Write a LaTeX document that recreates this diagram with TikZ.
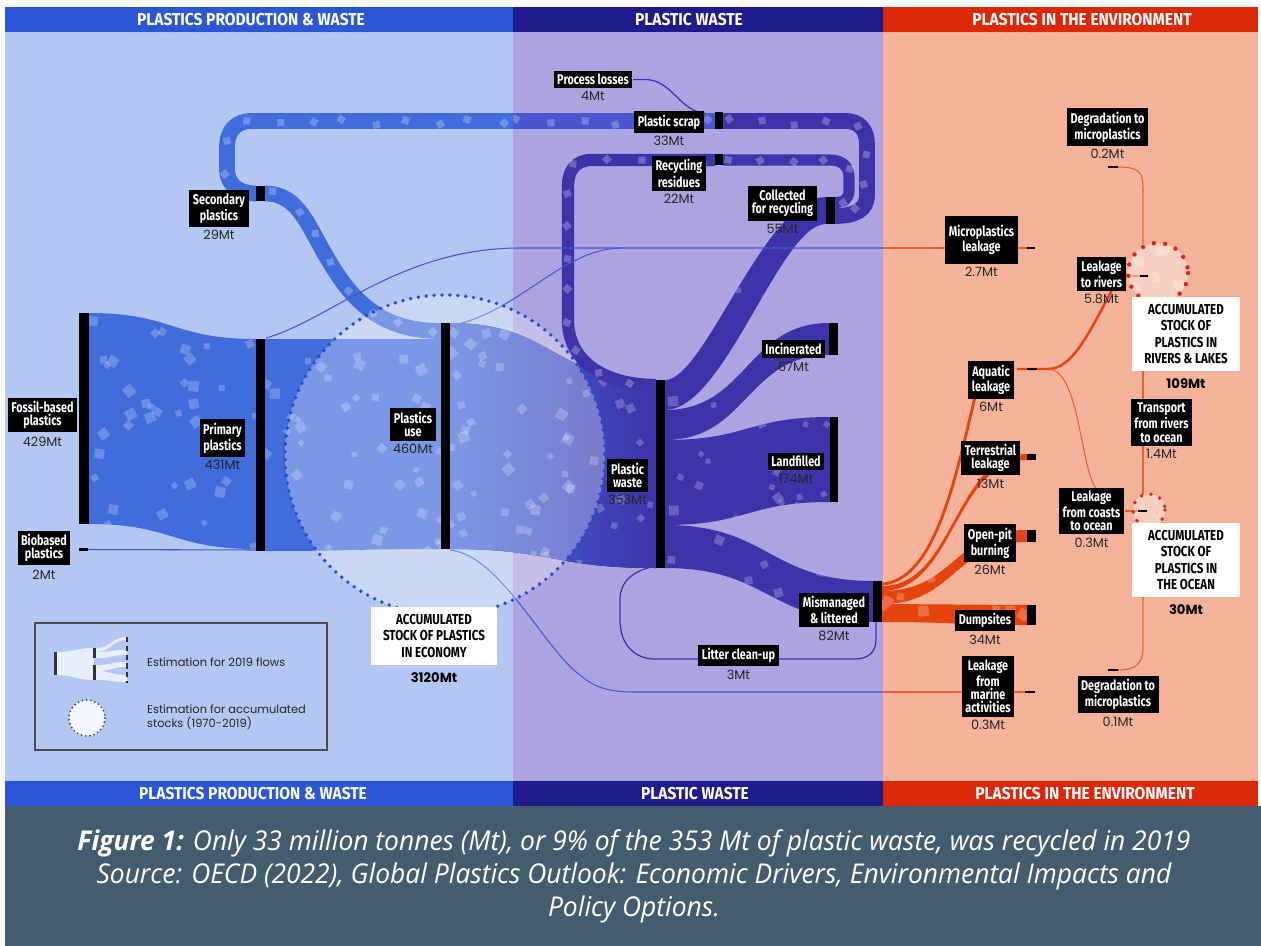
\documentclass[tikz,border=0pt]{standalone}
\usepackage{fontspec}
\setmainfont{Poppins}
\newfontfamily\condfont{Fira Sans}[FakeStretch=0.77]
\newfontfamily\hdrfont{Fira Sans}[FakeStretch=0.9]
\newfontfamily\stockfont{Fira Sans}[FakeStretch=0.8]
\newfontfamily\capfont{Open Sans}[FakeStretch=0.97]
\usepackage{tikz}
\usetikzlibrary{positioning, decorations.markings}

\definecolor{prodbg}{HTML}{B4C7F2}
\definecolor{wastebg}{HTML}{ADA3E0}
\definecolor{envbg}{HTML}{F4B29A}
\definecolor{prodhd}{HTML}{2B56D6}
\definecolor{wastehd}{HTML}{201B8C}
\definecolor{envhd}{HTML}{DD2808}
\definecolor{flowblue}{HTML}{416CDC}
\definecolor{flowmid}{HTML}{4A55D2}
\definecolor{flowpurple}{HTML}{3F33AA}
\definecolor{floworange}{HTML}{E5440F}
\definecolor{capbg}{HTML}{435D6F}
\definecolor{dotblue}{HTML}{1F4FD6}
\definecolor{dotred}{HTML}{D42A10}

% sankey band between two vertical edges
\newcommand{\bandpath}[6]{(#1,#2) .. controls ({(#1+#4)/2},#2) and ({(#1+#4)/2},#5) .. (#4,#5) -- (#4,#6) .. controls ({(#1+#4)/2},#6) and ({(#1+#4)/2},#3) .. (#1,#3) -- cycle}
% scattered squares
\newcommand{\confetti}[5]{%
  \foreach \k in {1,...,#5}{%
    \pgfmathsetmacro{\cx}{#1+rnd*(#2-#1)}%
    \pgfmathsetmacro{\cy}{#3+rnd*(#4-#3)}%
    \pgfmathsetmacro{\ca}{rnd*90}%
    \pgfmathsetmacro{\cs}{3.5+rnd*4}%
    \fill[white, opacity=0.22] (\cx,\cy) +(\ca:\cs) -- +(\ca+90:\cs) -- +(\ca+180:\cs) -- +(\ca+270:\cs) -- cycle;
  }}

\begin{document}
\begin{tikzpicture}[x=0.02cm, y=-0.02cm,
  lbl/.style={fill=black, text=white, font=\condfont\bfseries\fontsize{8}{7.6}\selectfont, align=center, inner sep=2pt},
  val/.style={font=\fontsize{7.3}{8}\selectfont, text=black!85, inner sep=0pt},
  hdr/.style={font=\hdrfont\bfseries\fontsize{9.8}{10}\selectfont, text=white},
  stk/.style={fill=white, font=\stockfont\bfseries\fontsize{8.2}{9.4}\selectfont, align=center, inner xsep=4pt, inner ysep=4pt},
  stkval/.style={font=\bfseries\fontsize{7.5}{8}\selectfont, inner sep=0pt},
  legtxt/.style={font=\fontsize{6.5}{7.8}\selectfont, align=left, anchor=west, text=black!85},
  thinblue/.style={draw=flowmid, line width=0.6pt},
  thinpurple/.style={draw=flowpurple, line width=0.7pt},
  thinred/.style={draw=floworange!85!white, line width=0.6pt},
  stockdots/.style={line width=2.2pt, line cap=round, dash pattern=on 0pt off 4.5pt},
  flowdots/.style={postaction={decorate, decoration={markings,
      mark=between positions 0.03 and 0.97 step 18pt with {%
        \pgfmathsetmacro{\ca}{rnd*90}\pgfmathsetmacro{\co}{rnd*5-2.5}%
        \fill[white, opacity=0.25, rotate=\ca] (0pt,\co pt) +(-2pt,-2pt) rectangle +(2pt,2pt);}}}}
]
\pgfmathsetseed{42}
\useasboundingbox (0,0) rectangle (1261,946);

% panels and headers
\fill[white] (0,0) rectangle (1261,946);
\fill[prodbg] (5,32) rectangle (513,781);
\fill[wastebg] (513,32) rectangle (883,781);
\fill[envbg] (883,32) rectangle (1258,781);
\foreach \ya/\yb in {7/32, 781/806} {
  \fill[prodhd] (5,\ya) rectangle (513,\yb);
  \fill[wastehd] (513,\ya) rectangle (883,\yb);
  \fill[envhd] (883,\ya) rectangle (1258,\yb);
}
\fill[capbg] (5,806) rectangle (1261,946);
\node[hdr] (hprod) at (251,19.5) {PLASTICS PRODUCTION \& WASTE};
\node[hdr] (hwaste) at (689,19.5) {PLASTIC WASTE};
\node[hdr] (henv) at (1082,19.5) {PLASTICS IN THE ENVIRONMENT};
\node[hdr] (hprod2) at (253,793.5) {PLASTICS PRODUCTION \& WASTE};
\node[hdr] (hwaste2) at (695,793.5) {PLASTIC WASTE};
\node[hdr] (henv2) at (1085,793.5) {PLASTICS IN THE ENVIRONMENT};

% production flows
\fill[flowblue] \bandpath{89}{313}{524}{256}{339}{549};
\fill[flowblue] \bandpath{265}{339}{551}{441}{339}{549};
\fill[left color=flowblue, right color=flowpurple] \bandpath{450}{323}{549}{656}{380}{568};
\begin{scope}
  \clip \bandpath{89}{313}{524}{256}{339}{549};
  \confetti{89}{256}{313}{549}{40}
\end{scope}
\begin{scope}
  \clip \bandpath{265}{339}{551}{441}{339}{549};
  \confetti{265}{441}{339}{551}{40}
\end{scope}
\begin{scope}
  \clip \bandpath{450}{323}{549}{656}{380}{568};
  \confetti{450}{656}{323}{568}{55}
\end{scope}
\draw[flowblue!85!black, line width=0.6pt] (88,549.5) -- (256,550);

% recycling loops
\draw[flowmid, line width=9pt, flowdots] (715,121) -- (513,121);
\draw[flowblue, line width=9pt, flowdots] (513,121) -- (252,121) .. controls (236,121) and (227,130) .. (227,148) -- (227,168) .. controls (227,186) and (240,193.5) .. (256,193.5);
\draw[flowblue, line width=9pt, flowdots] (265,193.5) .. controls (300,193.5) and (308,228) .. (332,266) .. controls (360,312) and (392,331) .. (441,331);
\draw[flowpurple, line width=9pt, flowdots] (723,121) -- (845,121) .. controls (860,121) and (867,130) .. (867,145) -- (867,195) .. controls (867,210) and (855,216) .. (835,216);
\draw[flowpurple, line width=6.3pt, flowdots] (723,160) -- (830,160) .. controls (843,160) and (849,167) .. (849,178) -- (849,190) .. controls (849,199) and (844,202.5) .. (835,202.5);
\draw[flowpurple, line width=7pt, flowdots] (715,160) -- (592,160) .. controls (576,160) and (568,170) .. (568,186) -- (568,320) .. controls (568,362) and (605,385) .. (656,385);

% waste flows
\fill[flowpurple] (665,380) .. controls (705,380) and (765,197) .. (826,197) -- (826,224) .. controls (780,224) and (725,410) .. (665,410) -- cycle;
\fill[flowpurple] \bandpath{665}{410}{440}{829}{323}{355};
\fill[flowpurple] \bandpath{665}{440}{525}{830}{417}{502};
\fill[flowpurple] \bandpath{665}{525}{568}{873}{581}{622};
\begin{scope}
  \clip \bandpath{665}{440}{525}{830}{417}{502};
  \confetti{665}{830}{417}{525}{22}
\end{scope}
\begin{scope}
  \clip \bandpath{665}{525}{568}{873}{581}{622};
  \confetti{665}{873}{525}{622}{14}
\end{scope}
\begin{scope}
  \clip \bandpath{665}{410}{440}{829}{323}{355};
  \confetti{665}{829}{323}{440}{9}
\end{scope}
\begin{scope}
  \clip (665,380) .. controls (705,380) and (765,197) .. (826,197) -- (826,224) .. controls (780,224) and (725,410) .. (665,410) -- cycle;
  \confetti{665}{826}{197}{410}{12}
\end{scope}

% environment flows
\fill[floworange] \bandpath{882}{604}{622}{1027}{605}{625};
\fill[floworange] \bandpath{882}{591}{604}{1027}{530}{542};
\fill[floworange] \bandpath{882}{586}{591}{1027}{454}{460};
\begin{scope}
  \clip \bandpath{882}{604}{622}{1027}{605}{625};
  \confetti{882}{1027}{604}{625}{7}
\end{scope}
\begin{scope}
  \clip \bandpath{882}{591}{604}{1027}{530}{542};
  \confetti{882}{1027}{530}{604}{5}
\end{scope}
\draw[floworange, line width=1.6pt] (882,584) .. controls (935,580) and (955,480) .. (975,397);
\draw[floworange, line width=1.4pt] (1017,369) -- (1048,369) .. controls (1072,369) and (1088,335) .. (1112,290);
\draw[thinred] (1048,369) .. controls (1080,369) and (1080,470) .. (1097,490);

% thin flows
\draw[thinblue] (266,338) .. controls (330,320) and (400,248) .. (520,248) -- (883,248);
\draw[thinblue] (450,326) .. controls (520,312) and (560,250) .. (620,248);
\draw[thinred] (883,248) -- (1035,248);
\draw[thinblue] (450,550) .. controls (500,555) and (545,650) .. (580,675) .. controls (595,688) and (610,692) .. (635,692) -- (883,692);
\draw[thinred] (883,692) -- (1035,692);
\draw[thinpurple] (876,622) -- (876,640) .. controls (876,652) and (868,659) .. (855,659) -- (655,659) .. controls (635,659) and (620,645) .. (620,620) -- (620,600) .. controls (620,580) and (635,570) .. (656,566);
\draw[thinpurple] (633,79.5) -- (645,79.5) .. controls (672,79.5) and (680,112) .. (705,113);
\draw[thinred] (1118,167) .. controls (1143,167) and (1143,175) .. (1143,192) -- (1143,244);
\draw[thinred] (1127,276) -- (1147,276);
\draw[thinred] (1143,371) -- (1143,495);
\draw[thinred] (1125,511) -- (1147,511);
\draw[thinred] (1143,596) -- (1143,648) .. controls (1143,664) and (1135,670) .. (1118,670);

% accumulated stocks
\fill[white, opacity=0.3] (445,455) circle[radius=160];
\draw[dotblue, stockdots] (445,455) circle[radius=160];
\fill[white, opacity=0.4] (1158,273) circle[radius=30];
\begin{scope}
  \clip (1158,273) circle[radius=30];
  \confetti{1130}{1188}{245}{303}{8}
\end{scope}
\draw[dotred, stockdots, line width=2.5pt, dash pattern=on 0pt off 6.5pt] (1158,273) circle[radius=30];
\fill[white, opacity=0.4] (1149,510) circle[radius=16];
\draw[dotred, stockdots, line width=2.2pt, dash pattern=on 0pt off 5.5pt] (1149,510) circle[radius=16];

% bars
\foreach \xa/\ya/\xb/\yb in {79/313/89/524, 256/339/265/551, 441/323/450/549, 656/380/665/568,
    256/186/265/201, 715/112/723/129, 715/154/723/165, 826/197/835/224,
    829/323/838/355, 830/417/838/502, 873/581/882/622,
    1027/605/1036/625, 1027/530/1036/542, 1027/454/1036/460} {
  \fill[black] (\xa,\ya) rectangle (\xb,\yb);
}
% ticks
\foreach \xa/\xb/\y in {79/88/549.5, 1027/1037/369, 1027/1035/248, 1140/1148/276, 1138/1147/511,
    1108/1118/167, 1108/1118/670, 1025/1035/692} {
  \draw[black, line width=1.2pt] (\xa,\y) -- (\xb,\y);
}

% labels
\node[lbl] (sec) at (219,208.5) {Secondary\\plastics};
\node[val, below=1.5pt of sec] (secv) {29Mt};
\node[lbl] (fossil) at (42.5,415) {Fossil-based\\plastics};
\node[val, below=2pt of fossil] (fossilv) {429Mt};
\node[lbl] (bio) at (44,548) {Biobased\\plastics};
\node[val, below=2pt of bio] (biov) {2Mt};
\node[lbl] (prim) at (222.5,438) {Primary\\plastics};
\node[val, below=1.5pt of prim] (primv) {431Mt};
\node[lbl] (use) at (413,424.5) {Plastics\\use};
\node[val, below=1.5pt of use] (usev) {460Mt};
\node[lbl] (loss) at (593,79.5) {Process losses};
\node[val, below=1.5pt of loss] (lossv) {4Mt};
\node[lbl] (scrap) at (669,122) {Plastic scrap};
\node[val, below=1.5pt of scrap] (scrapv) {33Mt};
\node[lbl] (resid) at (679,173.5) {Recycling\\residues};
\node[val, below=1.5pt of resid] (residv) {22Mt};
\node[lbl] (coll) at (782.5,203.5) {Collected\\for recycling};
\node[val, below=1.5pt of coll] (collv) {55Mt};
\node[lbl] (incin) at (793.5,349) {Incinerated};
\node[val, below=1.5pt of incin] (incinv) {67Mt};
\node[lbl] (landf) at (796,461.5) {Landfilled};
\node[val, below=1.5pt of landf] (landfv) {174Mt};
\node[lbl] (waste) at (627.5,475.5) {Plastic\\waste};
\node[val, below=1.5pt of waste] (wastev) {353Mt};
\node[lbl] (mism) at (834,610) {Mismanaged\\\& littered};
\node[val, below=1.5pt of mism] (mismv) {82Mt};
\node[lbl] (litter) at (738.5,655.5) {Litter clean-up};
\node[val, below=1.5pt of litter] (litterv) {3Mt};
\node[lbl, inner ysep=5pt] (micro) at (981.5,240) {Microplastics\\leakage};
\node[val, below=1.5pt of micro] (microv) {2.7Mt};
\node[lbl] (aqua) at (991,380) {Aquatic\\leakage};
\node[val, below=1.5pt of aqua] (aquav) {6Mt};
\node[lbl] (terr) at (990.5,458) {Terrestrial\\leakage};
\node[val, below=1.5pt of terr] (terrv) {13Mt};
\node[lbl] (pit) at (990,543) {Open-pit\\burning};
\node[val, below=1.5pt of pit] (pitv) {26Mt};
\node[lbl] (dump) at (985,620.5) {Dumpsites};
\node[val, below=1.5pt of dump] (dumpv) {34Mt};
\node[lbl] (marine) at (988,686.5) {Leakage\\from\\marine\\activities};
\node[val, below=1.5pt of marine] (marinev) {0.3Mt};
\node[lbl] (degtop) at (1107.5,127) {Degradation to\\microplastics};
\node[val, below=1.5pt of degtop] (degtopv) {0.2Mt};
\node[lbl] (rivers) at (1101.5,274) {Leakage\\to rivers};
\node[val, below=1.5pt of rivers] (riversv) {5.8Mt};
\node[lbl] (transp) at (1161.5,422.5) {Transport\\from rivers\\to ocean};
\node[val, below=1.5pt of transp] (transpv) {1.4Mt};
\node[lbl] (coast) at (1091.5,511) {Leakage\\from coasts\\to ocean};
\node[val, below=1.5pt of coast] (coastv) {0.3Mt};
\node[lbl] (degbot) at (1118,694.5) {Degradation to\\microplastics};
\node[val, below=1.5pt of degbot] (degbotv) {0.1Mt};

% stock labels
\node[stk, minimum width=72pt] (econstock) at (434,636) {ACCUMULATED\\STOCK OF PLASTICS\\IN ECONOMY};
\node[stkval, below=4pt of econstock] (econv) {3120Mt};
\node[stk, minimum width=61.5pt] (riverstock) at (1186,334) {ACCUMULATED\\STOCK OF\\PLASTICS IN\\RIVERS \& LAKES};
\node[stkval, below=4pt of riverstock] (riverv) {109Mt};
\node[stk, minimum width=61.5pt] (oceanstock) at (1186,560) {ACCUMULATED\\STOCK OF\\PLASTICS IN\\THE OCEAN};
\node[stkval, below=4pt of oceanstock] (oceanv) {30Mt};

% legend
\draw[black!70, line width=0.8pt] (35,623) rectangle (327,750);
\fill[white, opacity=0.7] \bandpath{56}{652}{675}{94}{648}{680};
\foreach \a/\b/\c/\d in {648/652/637/640, 652/658/650/655, 665/671/662/667, 671/680/675/682} {
  \fill[white, opacity=0.7] \bandpath{96}{\a}{\b}{127}{\c}{\d};
}
\fill[black!80] (54,652) rectangle (57,675);
\fill[black!80] (93,648) rectangle (96,658);
\fill[black!80] (93,665) rectangle (96,680);
\draw[black!80, line width=1.5pt, dash pattern=on 3pt off 2pt] (127,637) -- (127,683);
\fill[white!85!prodbg] (87,718) circle[radius=18];
\draw[black!70, line width=1.2pt, line cap=round, dash pattern=on 0pt off 2.4pt] (87,718) circle[radius=18];
\node[legtxt] (legflow) at (141,662) {Estimation for 2019 flows};
\node[legtxt] (legstock) at (141,717) {Estimation for accumulated\\stocks (1970-2019)};

% caption
\node[font=\capfont\itshape\fontsize{15.5}{18.8}\selectfont, text=white, align=center] (caption) at (634,876)
  {\textbf{Figure 1:} Only 33 million tonnes (Mt), or 9\% of the 353 Mt of plastic waste, was recycled in 2019\\
   Source: OECD (2022), Global Plastics Outlook: Economic Drivers, Environmental Impacts and\\
   Policy Options.};
\end{tikzpicture}
\end{document}
